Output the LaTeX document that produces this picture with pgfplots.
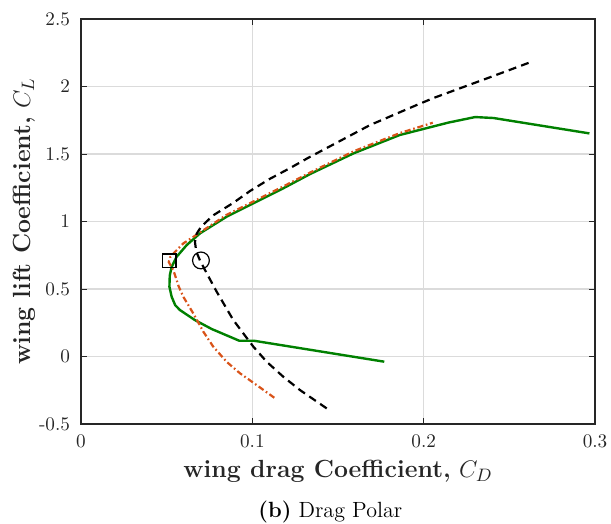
\documentclass[border=0pt]{standalone}
\usepackage{pgfplots}
\pgfplotsset{compat=1.18}
\definecolor{mgreen}{rgb}{0,0.5,0}
\definecolor{morange}{rgb}{0.85,0.325,0.098}
\definecolor{axgray}{rgb}{0.15,0.15,0.15}
\definecolor{gridgray}{rgb}{0.86,0.86,0.86}

\begin{document}
\begin{tikzpicture}
\begin{axis}[
  scale only axis, width=257pt, height=202.5pt,
  xmin=0, xmax=0.3, ymin=-0.5, ymax=2.5,
  xtick={0,0.1,0.2,0.3}, ytick={-0.5,0,0.5,1,1.5,2,2.5},
  xticklabels={0,0.1,0.2,0.3}, yticklabels={-0.5,0,0.5,1,1.5,2,2.5},
  xmajorgrids, ymajorgrids, major grid style={draw=gridgray, line width=0.6pt},
  axis line style={axgray, line width=0.6pt},
  tick style={axgray, line width=0.5pt}, major tick length=3pt,
  tick label style={font=\fontsize{9.6}{11}\selectfont, text=axgray},
  xticklabel style={yshift=-2pt},
  yticklabel style={xshift=-2pt},
  xlabel={\textbf{wing drag Coefficient,} $C_D$},
  ylabel={\textbf{wing lift Coefficient,} $C_L$},
  label style={font=\fontsize{12.4}{14}\selectfont, text=axgray},
  xlabel style={at={(axis description cs:0.5,-0.131)}, anchor=base},
  ylabel style={at={(axis description cs:-0.0992,0.5)}, anchor=base},
  clip=false]

% green solid
\addplot[mgreen, line width=1.2pt] coordinates {
(0.177,-0.038) (0.101,0.117) (0.0924,0.117) (0.0763,0.204) (0.0665,0.270)
(0.0578,0.344) (0.0550,0.38) (0.0529,0.443) (0.0516,0.517) (0.0518,0.600)
(0.0529,0.665) (0.0558,0.739) (0.0617,0.826) (0.0695,0.913) (0.085,1.036)
(0.1006,1.135) (0.118,1.246) (0.1337,1.352) (0.159,1.505) (0.186,1.641)
(0.2144,1.733) (0.230,1.774) (0.2407,1.767) (0.2967,1.653)};

% orange dash-dot
\addplot[morange, line width=1.1pt, dash pattern=on 3pt off 1.4pt on 0.8pt off 1.4pt] coordinates {
(0.1128,-0.305) (0.1025,-0.211) (0.0928,-0.124) (0.085,-0.039) (0.0772,0.073)
(0.0714,0.184) (0.0655,0.32) (0.0597,0.443) (0.0570,0.52) (0.0539,0.64)
(0.0512,0.70) (0.0520,0.735) (0.0549,0.776) (0.0597,0.838) (0.0656,0.887)
(0.085,1.05) (0.10,1.145) (0.118,1.26) (0.134,1.365) (0.159,1.52)
(0.186,1.655) (0.2053,1.732)};

% black dashed
\addplot[black, line width=1.1pt, dash pattern=on 4pt off 2.6pt] coordinates {
(0.1434,-0.384) (0.1278,-0.248) (0.1181,-0.150) (0.1084,-0.039) (0.1006,0.073)
(0.0947,0.172) (0.0889,0.270) (0.0792,0.480) (0.0734,0.616) (0.0695,0.71)
(0.0672,0.78) (0.0665,0.85) (0.0675,0.91) (0.0700,0.96) (0.077,1.045)
(0.0887,1.137) (0.0986,1.226) (0.110,1.315) (0.122,1.396) (0.1323,1.47)
(0.1687,1.715) (0.1959,1.863) (0.2057,1.915) (0.2368,2.06) (0.262,2.179)};

% markers
\addplot[only marks, mark=square, mark size=3.4pt, black, line width=0.6pt] coordinates {(0.0515,0.710)};
\addplot[only marks, mark=o, mark size=4.2pt, black, line width=0.6pt] coordinates {(0.0700,0.712)};

\node[font=\fontsize{11}{13}\selectfont, anchor=base] at (axis description cs:0.485,-0.2296) {\textbf{(b)} Drag Polar};
\coordinate (bbsw) at (axis description cs:-0.1576,-0.2444);
\coordinate (bbne) at (axis description cs:1.031,1.047);
\end{axis}
\pgfresetboundingbox
\path[use as bounding box] (bbsw) rectangle (bbne);
\end{tikzpicture}
\end{document}
